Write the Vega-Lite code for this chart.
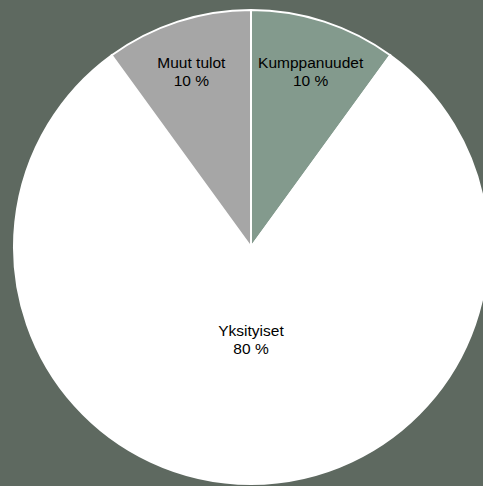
{
  "$schema": "https://vega.github.io/schema/vega-lite/v6.json",
  "autosize": {"type": "none"},
  "padding": {"left": 19, "top": 7, "right": 0, "bottom": 0},
  "width": 464,
  "height": 480,
  "background": "#5e6960",
  "view": {"stroke": null},
  "data": {
    "values": [
      {"category": "Kumppanuudet", "label": "Kumppanuudet\n10 %", "value": 10, "order": 1},
      {"category": "Yksityiset", "label": "Yksityiset\n80 %", "value": 80, "order": 2},
      {"category": "Muut tulot", "label": "Muut tulot\n10 %", "value": 10, "order": 3}
    ]
  },
  "encoding": {
    "theta": {"field": "value", "type": "quantitative", "stack": true},
    "order": {"field": "order", "type": "quantitative"}
  },
  "layer": [
    {
      "mark": {"type": "arc", "outerRadius": 237, "stroke": "#ffffff", "strokeWidth": 2},
      "encoding": {
        "color": {
          "field": "category",
          "type": "nominal",
          "scale": {
            "domain": ["Kumppanuudet", "Yksityiset", "Muut tulot"],
            "range": ["#839a8d", "#ffffff", "#a6a6a6"]
          },
          "legend": null
        }
      }
    },
    {
      "mark": {"type": "text", "font": "Liberation Sans", "fontSize": 15.5, "color": "#000000", "lineHeight": 18, "baseline": "middle", "lineBreak": "\n"},
      "encoding": {
        "radius": {"field": "value", "type": "quantitative", "scale": {"type": "linear", "zero": false, "domain": [10, 80], "range": [193, 84]}},
        "text": {"field": "label", "type": "nominal"}
      }
    }
  ]
}
